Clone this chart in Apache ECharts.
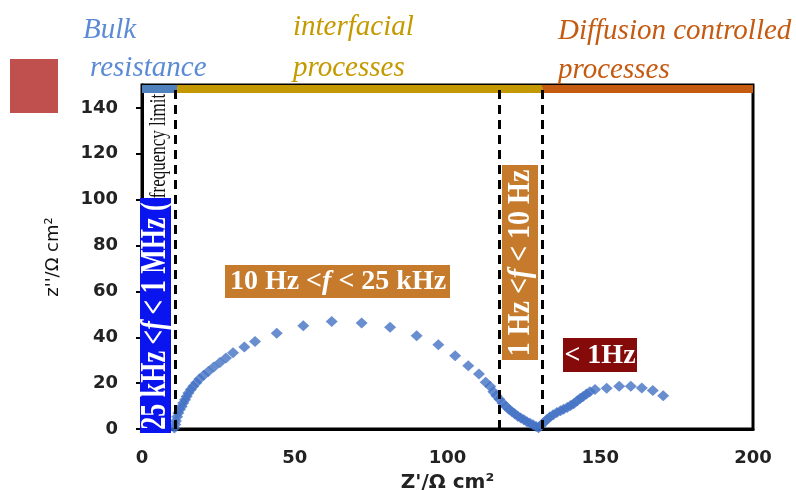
<!DOCTYPE html>
<html>
<head>
<meta charset="utf-8">
<script src="https://cdn.jsdelivr.net/npm/echarts@6/dist/echarts.min.js"></script>
<style>html,body{margin:0;padding:0;background:#fff;}#c{width:796px;height:490px;}</style>
</head>
<body>
<div id="c"></div>
<script>
// ---- data ----
const zReal = [10.6,10.9,11.1,11.5,11.9,12.4,13.0,13.5,14.1,14.6,15.2,16.0,16.8,17.8,18.8,20.2,21.7,23.5,25.5,27.5,29.8,33.5,37.0,44.1,52.8,62.1,71.9,81.2,89.9,97.0,102.5,106.8,110.3,112.5,114,115,116,117,118,119,120,121,122,123,124,125,126,127,128,129,129.8,130.6,131.5,132.5,133.5,134.6,135.8,137,138,139.2,140.3,141.3,142.4,143.4,144.4,145.5,146.6,148.3,152.1,156.2,160.0,163.6,167.2,170.6];
const zImag = [0.4,2.0,3.5,5.3,7.0,8.5,9.8,11.3,12.8,14.2,15.7,17.2,18.6,20.2,21.8,23.4,25.1,27.0,29.0,31.0,33.3,35.8,38.2,41.8,45.0,46.9,46.2,44.4,40.7,36.7,31.9,27.6,24.0,20.4,18.5,16.2,14.5,13.0,11.3,10.0,8.7,7.6,6.6,5.6,4.8,4.0,3.2,2.5,1.8,1.1,0.5,1.5,2.8,4.0,5.2,6.2,7.2,8.0,8.6,9.4,10.2,11.0,12.2,13.3,14.2,15.3,16.2,17.2,17.8,18.6,18.6,17.9,16.8,14.5];
const xTickValues = [0,50,100,150,200];
const yTickValues = [0,20,40,60,80,100,120,140];
const regionBounds = [0, 11.5, 131, 200];
const regionColors = ['#4F81BD', '#C49800', '#C55A11'];
const boundaryLines = [11, 117, 131];
const topTitles = [
  {text: 'Bulk', color: '#5B8BD4'},
  {text: 'resistance', color: '#5B8BD4'},
  {text: 'interfacial', color: '#C49A00'},
  {text: 'processes', color: '#C49A00'},
  {text: 'Diffusion controlled', color: '#C55A11'},
  {text: 'processes', color: '#C55A11'}
];
const rangeLabels = {
  bulk: ['25 kHz <', 'f', ' < 1 MHz ('],
  interf: ['10 Hz <', 'f', ' < 25 kHz'],
  mid: ['1 Hz <', 'f', ' < 10 Hz'],
  low: '< 1Hz',
  limit: 'frequency limit'
};

const pts = zReal.map((x, i) => [x, zImag[i]]);
const chart = echarts.init(document.getElementById('c'), null, {renderer: 'canvas'});

const titlePos = [[83,30],[90,68],[293,27],[293,68],[558,31],[558,70]];
const titleGraphics = topTitles.map((t, i) => ({
  type: 'text', x: titlePos[i][0], y: titlePos[i][1], z: 100,
  style: {text: t.text, fill: t.color, font: 'italic 29px "Liberation Serif"', verticalAlign: 'middle', align: 'left'}
}));

function richLabel(parts, size) {
  return {
    text: '{n|' + parts[0] + '}{i|' + parts[1] + '}{n|' + parts[2] + '}',
    rich: {
      n: {fontFamily: 'Liberation Serif', fontWeight: 'bold', fontSize: size, fill: '#fff'},
      i: {fontFamily: 'Liberation Serif', fontWeight: 'bold', fontStyle: 'italic', fontSize: size, fill: '#fff'}
    },
    align: 'center', verticalAlign: 'middle'
  };
}

const graphics = titleGraphics.concat([
  {type: 'rect', shape: {x: 10, y: 59, width: 48, height: 54}, style: {fill: '#C0504D'}, z: 100},
  // bulk blue box
  {type: 'rect', shape: {x: 140, y: 198, width: 31, height: 235}, style: {fill: '#0A14EE'}, z: 100},
  {type: 'text', x: 156, y: 316, rotation: Math.PI / 2, scaleY: 1.35, z: 101, style: richLabel(rangeLabels.bulk, 26)},
  {type: 'text', x: 159, y: 146, rotation: Math.PI / 2, scaleY: 1.4, z: 101,
    style: {text: rangeLabels.limit, font: '17px "Liberation Serif"', fill: '#111', align: 'center', verticalAlign: 'middle'}},
  // interfacial orange box
  {type: 'rect', shape: {x: 225, y: 265, width: 225, height: 33}, style: {fill: '#C67A2B'}, z: 100},
  {type: 'text', x: 338, y: 282, z: 101, style: richLabel(rangeLabels.interf, 28)},
  // vertical orange box
  {type: 'rect', shape: {x: 502, y: 165, width: 36, height: 195}, style: {fill: '#C67A2B'}, z: 100},
  {type: 'text', x: 521, y: 263, rotation: Math.PI / 2, scaleY: 1.15, z: 101, style: richLabel(rangeLabels.mid, 28)},
  // dark red box
  {type: 'rect', shape: {x: 563, y: 338, width: 74, height: 34}, style: {fill: '#850B0B'}, z: 100},
  {type: 'text', x: 600, y: 356, z: 101,
    style: {text: rangeLabels.low, font: 'bold 28px "Liberation Serif"', fill: '#fff', align: 'center', verticalAlign: 'middle'}}
]);

const areaData = regionColors.map((c, i) => [
  {xAxis: regionBounds[i], yAxis: 146.5, itemStyle: {color: c}},
  {xAxis: regionBounds[i + 1], yAxis: 150.5}
]);

chart.setOption({
  animation: false,
  backgroundColor: '#fff',
  grid: {left: 142, right: 43, top: 85, bottom: 61, show: true, borderColor: '#000', borderWidth: 3,
         containLabel: false, outerBoundsMode: 'none'},
  xAxis: {
    type: 'value', min: 0, max: 200, interval: 50,
    name: "Z'/Ω cm²", nameLocation: 'middle', nameGap: 44,
    nameTextStyle: {fontFamily: 'DejaVu Sans', fontWeight: 'bold', fontSize: 20, color: '#222'},
    axisLine: {show: true, lineStyle: {color: '#000', width: 3}},
    axisTick: {show: false},
    splitLine: {show: false},
    axisLabel: {customValues: xTickValues, fontFamily: 'DejaVu Sans', fontWeight: 'bold', fontSize: 18, color: '#222', margin: 20}
  },
  yAxis: {
    type: 'value', min: 0, max: 150, interval: 20,
    name: "z''/Ω cm²", nameLocation: 'middle', nameGap: 80,
    nameTextStyle: {fontFamily: 'DejaVu Sans', fontSize: 18, color: '#111'},
    axisLine: {show: true, lineStyle: {color: '#000', width: 3}},
    axisTick: {show: true, customValues: yTickValues, length: 6, lineStyle: {color: '#000', width: 2}},
    splitLine: {show: false},
    axisLabel: {customValues: yTickValues, fontFamily: 'DejaVu Sans', fontWeight: 'bold', fontSize: 18, color: '#222', margin: 24}
  },
  series: [
    {
      type: 'scatter', data: pts, symbol: 'diamond', symbolSize: [12, 11],
      itemStyle: {color: '#4472C4'}, z: 3
    },
    {
      type: 'line', data: [], z: 5, silent: true,
      markLine: {
        silent: true, symbol: 'none', label: {show: false},
        lineStyle: {color: '#000', width: 3, type: [9, 6]},
        data: boundaryLines.map(v => ({xAxis: v}))
      }
    },
    {
      type: 'line', data: [], z: 6, silent: true,
      markArea: {silent: true, data: areaData, label: {show: false}}
    }
  ],
  graphic: graphics
});
</script>
</body>
</html>
